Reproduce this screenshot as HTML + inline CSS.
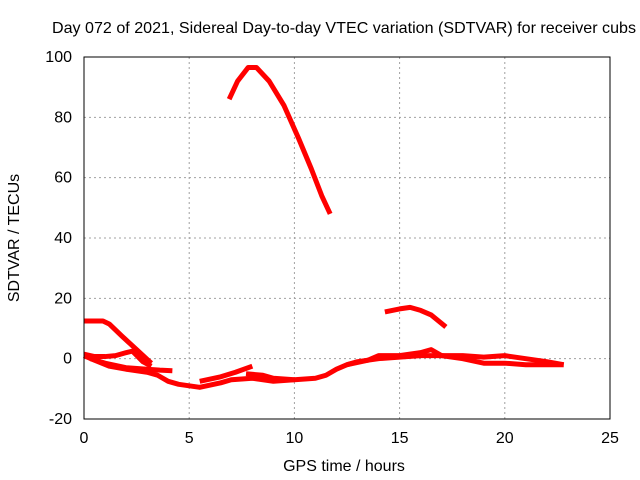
<!DOCTYPE html>
<html><head><meta charset="utf-8"><style>
body{margin:0;background:#fff}
svg{display:block;font-family:"Liberation Sans",sans-serif;font-size:16px}
</style></head><body>
<svg id="chart" width="640" height="480" viewBox="0 0 640 480">
<rect width="640" height="480" fill="#fff"/>
<g id="grid"></g>
<g id="series"></g>
<rect x="84" y="57" width="526" height="362" fill="none" stroke="#000" stroke-width="1"/>
<g id="ticks"></g>
<text x="344" y="33" text-anchor="middle" textLength="584" lengthAdjust="spacingAndGlyphs">Day 072 of 2021, Sidereal Day-to-day VTEC variation (SDTVAR) for receiver cubs</text>
<text x="344" y="471" text-anchor="middle">GPS time / hours</text>
<text transform="translate(19,238) rotate(-90)" text-anchor="middle">SDTVAR / TECUs</text>
</svg>
<script>
const xTicks=[0,5,10,15,20,25];
const yTicks=[-20,0,20,40,60,80,100];
const arcHigh=[[6.9,86],[7.3,92],[7.8,96.5],[8.2,96.5],[8.8,92],[9.5,84],[10.2,73],[10.8,63],[11.3,54],[11.7,48]];
const flatStart=[[0,12.5],[0.9,12.5],[1.2,11.5],[1.8,7.5],[2.5,3],[3.2,-1.5]];
const earlyUpper=[[0,1.5],[0.5,0.7],[1,0.7],[1.5,1],[2,2],[2.3,2.5],[2.8,-1],[3.2,-2.5]];
const earlyMid=[[0.3,0],[1,-1.5],[2,-3],[3,-3.5],[3.6,-3.8],[4.2,-4]];
const lowerMain=[[0,1],[0.5,-0.5],[1.2,-2.5],[2,-3.5],[3,-4.5],[3.5,-5.5],[4,-7.5],[4.5,-8.5],[5.5,-9.5],[6.5,-8],[7,-7],[8,-6.5],[9,-7.5],[10,-7],[11,-6.5],[11.5,-5.5],[12,-3.5],[12.5,-2],[13,-1],[14,0],[15,0.5],[16,1],[17,1],[18,0],[19,-1.5],[20,-1.5],[21,-2],[22,-2],[22.8,-2]];
const branchA=[[5.5,-7.5],[6.5,-6],[7.2,-4.5],[8,-2.5]];
const branchB=[[7.7,-5],[8.5,-5.5],[9,-6.5],[10,-7]];
const upperNoisy=[[12.5,-2],[13.5,-0.5],[14,1],[15,1],[16,2],[16.5,3],[17,1],[18,1],[19,0.5],[20,1],[21,0],[22,-1],[22.8,-2]];
const arcMid=[[14.3,15.5],[15,16.5],[15.5,17],[16,16],[16.5,14.5],[17.2,10.5]];
const allSeries=[arcHigh,flatStart,earlyUpper,earlyMid,lowerMain,branchA,branchB,upperNoisy,arcMid];
const X=v=>84+v*526/25, Y=v=>419-(v+20)*362/120;
const NS="http://www.w3.org/2000/svg";
const grid=document.getElementById('grid'),ticks=document.getElementById('ticks'),ser=document.getElementById('series');
function mk(tag,attrs,parent){const e=document.createElementNS(NS,tag);for(const k in attrs)e.setAttribute(k,attrs[k]);parent.appendChild(e);return e;}
xTicks.forEach(t=>{
  if(t>0&&t<25){const g=mk('line',{x1:X(t),x2:X(t),y1:57,y2:419,stroke:'#a0a0a0','stroke-dasharray':'2,3'},grid);
  
  }
  const l=mk('text',{x:X(t),y:443,'text-anchor':'middle'},ticks);l.textContent=t;
  
  
});
yTicks.forEach(t=>{
  if(t>-20&&t<100){const g=mk('line',{x1:84,x2:610,y1:Y(t),y2:Y(t),stroke:'#a0a0a0','stroke-dasharray':'2,3'},grid);
  
  }
  const l=mk('text',{x:72,y:Y(t)+5,'text-anchor':'end'},ticks);l.textContent=t;
  
  
});
allSeries.forEach(s=>{
  const p=mk('polyline',{points:s.map(d=>X(d[0])+','+Y(d[1])).join(' '),fill:'none',stroke:'#ff0000','stroke-width':5,'stroke-linejoin':'round','stroke-linecap':'butt'},ser);
  
  
});
</script>
</body></html>
